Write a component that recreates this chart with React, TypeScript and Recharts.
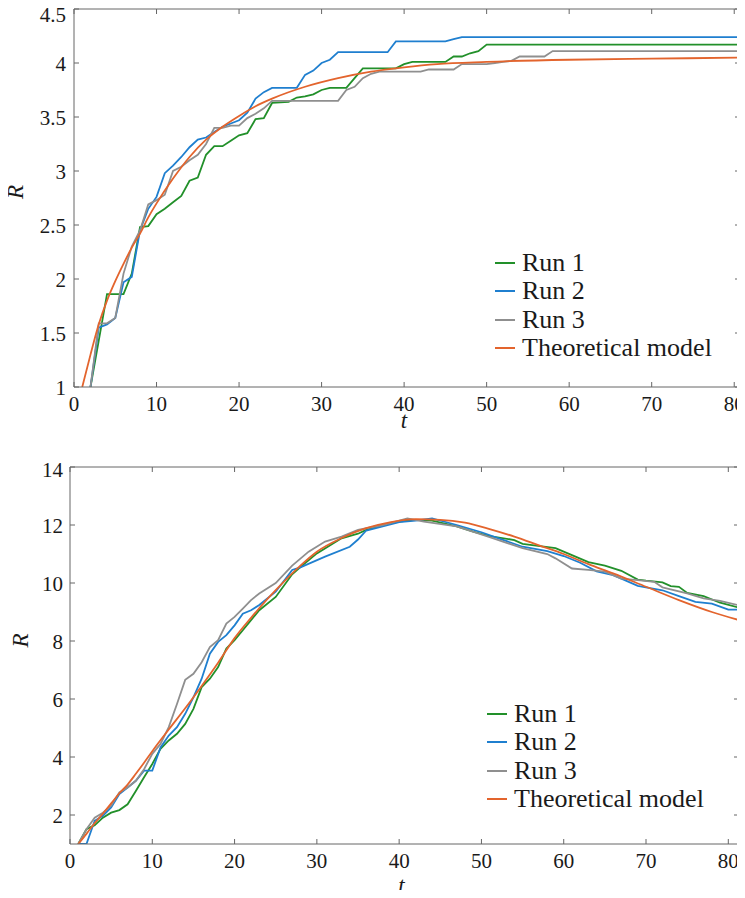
import { LineChart, Line, XAxis, YAxis, Legend } from 'recharts'

const FONT = '"Liberation Serif", "Times New Roman", serif'
const AXIS = '#666'
const TEXT = '#1a1a1a'

const seriesNames = ['Run 1', 'Run 2', 'Run 3', 'Theoretical model']
const seriesColors = ['#22902a', '#1f7fcf', '#8f8f8f', '#e3642d']

const xTicks = [0, 10, 20, 30, 40, 50, 60, 70, 80]

// top panel
const topYTicks = [1, 1.5, 2, 2.5, 3, 3.5, 4, 4.5]
const topRun1T = [2, 3, 4, 6, 7, 8, 9, 10, 11, 12, 13, 14, 15, 16, 17, 18, 19, 20, 21, 22, 23, 24, 26, 27, 28, 29, 30, 31, 33, 34, 35, 39, 40, 41, 45, 46, 47, 48, 49, 50, 81]
const topRun1R = [1, 1.43, 1.86, 1.86, 2.05, 2.48, 2.49, 2.6, 2.65, 2.71, 2.77, 2.91, 2.94, 3.15, 3.23, 3.23, 3.28, 3.33, 3.35, 3.48, 3.49, 3.63, 3.64, 3.68, 3.69, 3.71, 3.75, 3.77, 3.77, 3.86, 3.95, 3.95, 3.99, 4.01, 4.01, 4.06, 4.06, 4.09, 4.11, 4.17, 4.17]
const topRun2T = [2, 3, 4, 5, 6, 7, 8, 9, 10, 11, 12, 13, 14, 15, 16, 17, 18, 19, 20, 21, 22, 23, 24, 27, 28, 29, 30, 31, 32, 38, 39, 45, 46, 47, 81]
const topRun2R = [1, 1.55, 1.58, 1.64, 1.97, 2.02, 2.45, 2.65, 2.76, 2.98, 3.05, 3.13, 3.22, 3.29, 3.31, 3.36, 3.41, 3.44, 3.47, 3.54, 3.67, 3.73, 3.77, 3.77, 3.89, 3.93, 4.0, 4.03, 4.1, 4.1, 4.2, 4.2, 4.22, 4.24, 4.24]
const topRun3T = [2, 3, 4, 5, 6, 7, 8, 9, 10, 11, 12, 13, 14, 15, 16, 17, 18, 19, 20, 21, 22, 23, 24, 32, 33, 34, 35, 36, 37, 42, 43, 46, 47, 50, 51, 52, 53, 54, 57, 58, 81]
const topRun3R = [1, 1.59, 1.59, 1.64, 2.05, 2.3, 2.45, 2.69, 2.73, 2.78, 3.0, 3.04, 3.1, 3.15, 3.25, 3.4, 3.4, 3.42, 3.42, 3.49, 3.53, 3.58, 3.65, 3.65, 3.75, 3.78, 3.86, 3.9, 3.92, 3.92, 3.94, 3.94, 3.99, 3.99, 4.0, 4.01, 4.02, 4.06, 4.06, 4.11, 4.11]
const topModelT = [1, 2, 3, 4, 5, 6, 7, 8, 9, 10, 12, 14, 16, 18, 20, 22, 24, 28, 32, 36, 40, 44, 50, 60, 70, 81]
const topModelR = [1, 1.3, 1.58, 1.8, 1.98, 2.14, 2.29, 2.42, 2.57, 2.7, 2.93, 3.13, 3.29, 3.41, 3.51, 3.6, 3.67, 3.78, 3.86, 3.92, 3.96, 3.99, 4.01, 4.03, 4.04, 4.05]

// bottom panel
const botYTicks = [2, 4, 6, 8, 10, 12, 14]
const botRun1T = [1, 2, 3, 4, 5, 6, 7, 8, 9, 10, 11, 12, 13, 14, 15, 16, 17, 18, 19, 20, 21, 22, 23, 25, 27, 28, 30, 33, 35, 36, 38, 40, 42, 44, 47, 49, 51, 54, 55, 59, 61, 63, 65, 67, 69, 70, 72, 73, 74, 75, 77, 79, 81.3]
const botRun1R = [1.0, 1.51, 1.65, 1.91, 2.08, 2.17, 2.37, 2.83, 3.3, 3.76, 4.28, 4.57, 4.8, 5.14, 5.66, 6.41, 6.7, 7.1, 7.74, 8.03, 8.37, 8.72, 9.06, 9.52, 10.3, 10.55, 11.02, 11.54, 11.7, 11.83, 12.0, 12.12, 12.18, 12.15, 11.95, 11.77, 11.62, 11.48, 11.35, 11.2, 10.96, 10.72, 10.6, 10.42, 10.12, 10.08, 10.02, 9.89, 9.87, 9.66, 9.55, 9.32, 9.15]
const botRun2T = [1, 2, 3, 4, 5, 6, 7, 8, 9, 10, 11, 12, 13, 14, 15, 16, 17, 18, 19, 20, 21, 22, 23, 25, 27, 28, 31, 34, 35, 36, 38, 40, 42, 44, 47, 50, 52, 55, 58, 60, 62, 64, 66, 67, 69, 72, 74, 76, 78, 80, 81.3]
const botRun2R = [1.0, 1.0, 1.8, 1.97, 2.26, 2.72, 2.95, 3.18, 3.53, 3.53, 4.33, 4.74, 5.03, 5.49, 6.06, 6.7, 7.56, 7.97, 8.2, 8.54, 8.94, 9.06, 9.24, 9.7, 10.45, 10.54, 10.91, 11.25, 11.5, 11.81, 11.95, 12.1, 12.15, 12.23, 12.0, 11.75, 11.55, 11.25, 11.1, 10.93, 10.7, 10.4, 10.27, 10.15, 9.9, 9.75, 9.55, 9.35, 9.29, 9.08, 9.08]
const botRun3T = [1, 2, 3, 4, 5, 6, 7, 8, 9, 10, 11, 12, 13, 14, 15, 16, 17, 18, 19, 20, 21, 22, 23, 25, 27, 29, 31, 33, 35, 38, 41, 43, 47, 51, 55, 58, 59, 61, 63, 65, 67, 69, 71, 72, 75, 77, 79, 81.3]
const botRun3R = [1.0, 1.51, 1.91, 2.08, 2.32, 2.78, 2.95, 3.18, 3.58, 4.11, 4.45, 5.03, 5.83, 6.66, 6.87, 7.27, 7.79, 8.03, 8.6, 8.83, 9.12, 9.41, 9.64, 10.0, 10.6, 11.08, 11.43, 11.6, 11.83, 12.0, 12.23, 12.12, 11.95, 11.58, 11.2, 11.0, 10.85, 10.5, 10.45, 10.39, 10.15, 10.1, 10.04, 9.85, 9.64, 9.47, 9.38, 9.23]
const botModelT = [1, 2, 3, 4, 5, 6, 7, 8, 9, 10, 12, 14, 16, 18, 20, 22, 24, 26, 28, 30, 33, 36, 39, 42, 45, 48, 51, 54, 57, 60, 63, 66, 70, 74, 78, 81.3]
const botModelR = [1.0, 1.35, 1.72, 2.05, 2.4, 2.75, 3.05, 3.42, 3.8, 4.2, 4.95, 5.68, 6.45, 7.25, 8.1, 8.8, 9.45, 10.05, 10.6, 11.08, 11.55, 11.89, 12.1, 12.2, 12.18, 12.08, 11.86, 11.6, 11.3, 11.0, 10.65, 10.33, 9.87, 9.41, 9.0, 8.72]

const zip = (t: number[], r: number[]) => t.map((x, i) => ({ t: x, r: r[i] }))

type Series = { name: string; color: string; data: { t: number; r: number }[]; smooth: boolean }

const buildSeries = (pairs: [number[], number[]][]): Series[] =>
  pairs.map(([t, r], i) => ({
    name: seriesNames[i],
    color: seriesColors[i],
    data: zip(t, r),
    smooth: i === 3,
  }))

const topSeries = buildSeries([
  [topRun1T, topRun1R],
  [topRun2T, topRun2R],
  [topRun3T, topRun3R],
  [topModelT, topModelR],
])
const botSeries = buildSeries([
  [botRun1T, botRun1R],
  [botRun2T, botRun2R],
  [botRun3T, botRun3R],
  [botModelT, botModelR],
])

interface PanelProps {
  top: number
  height: number
  margin: { top: number; right: number; bottom: number; left: number }
  xDomain: [number, number]
  yDomain: [number, number]
  yTicks: number[]
  series: Series[]
  legendTop: number
  legendLeft: number
  rDx: number
  rDy: number
  tDy: number
  yTickMargin: number
  topTickShift: number
}

const XTick = (props: any) => (
  <text x={props.x} y={props.y} dy="0.71em" textAnchor="middle" fontFamily={FONT} fontSize={21} fill={TEXT}>
    {props.payload.value}
  </text>
)

const Panel = (p: PanelProps) => {
  // the highest y label sits a little below its tick, as in the reference
  const YTick = (props: any) => {
    const v = props.payload.value
    const shift = v === p.yDomain[1] ? p.topTickShift : 1
    return (
      <text x={props.x} y={props.y + shift} dy="0.35em" textAnchor="end" fontFamily={FONT} fontSize={21} fill={TEXT}>
        {v}
      </text>
    )
  }
  // axis titles: rotated italic R on the left, italic t under the x axis
  const rLabel = (props: any) => {
    const vb = props.viewBox
    const cx = vb.x - p.rDx
    const cy = vb.y + vb.height / 2 + p.rDy
    return (
      <text
        x={cx}
        y={cy}
        transform={`rotate(-90 ${cx} ${cy})`}
        textAnchor="middle"
        fontFamily={FONT}
        fontSize={23}
        fontStyle="italic"
        fill={TEXT}
      >
        R
      </text>
    )
  }
  const tLabel = (props: any) => {
    const vb = props.viewBox
    return (
      <text
        x={vb.x + vb.width / 2 - 3}
        y={vb.y + p.tDy}
        textAnchor="middle"
        fontFamily={FONT}
        fontSize={23}
        fontStyle="italic"
        fill={TEXT}
      >
        t
      </text>
    )
  }

  return (
    <div style={{ position: 'absolute', left: 0, top: p.top, width: 745, height: p.height, fontFamily: FONT }}>
      <LineChart width={745} height={p.height} margin={p.margin}>
        <XAxis
          xAxisId="x"
          type="number"
          dataKey="t"
          domain={p.xDomain}
          ticks={xTicks}
          interval={0}
          allowDataOverflow
          height={1}
          tickSize={-5}
          tickMargin={14}
          stroke={AXIS}
          tick={XTick}
          label={tLabel}
        />
        <XAxis
          xAxisId="xt"
          orientation="top"
          type="number"
          dataKey="t"
          domain={p.xDomain}
          ticks={xTicks}
          interval={0}
          allowDataOverflow
          height={1}
          tickSize={-5}
          stroke={AXIS}
          tickFormatter={() => ''}
        />
        <YAxis
          yAxisId="y"
          type="number"
          domain={p.yDomain}
          ticks={p.yTicks}
          interval={0}
          allowDataOverflow
          width={1}
          tickSize={-5}
          tickMargin={p.yTickMargin}
          stroke={AXIS}
          tick={YTick}
          label={rLabel}
        />
        <YAxis
          yAxisId="yr"
          orientation="right"
          type="number"
          domain={p.yDomain}
          ticks={p.yTicks}
          interval={0}
          allowDataOverflow
          width={1}
          tickSize={-5}
          stroke={AXIS}
          tickFormatter={() => ''}
        />
        {p.series.map(s => (
          <Line
            key={s.name}
            xAxisId="x"
            yAxisId="y"
            data={s.data}
            dataKey="r"
            name={s.name}
            type={s.smooth ? 'monotone' : 'linear'}
            stroke={s.color}
            strokeWidth={1.8}
            dot={false}
            activeDot={false}
            isAnimationActive={false}
          />
        ))}
        <Legend
          layout="vertical"
          align="center"
          verticalAlign="middle"
          wrapperStyle={{ top: p.legendTop, left: p.legendLeft, width: 250 }}
          content={() => (
            <div style={{ fontFamily: FONT, fontSize: 26, color: TEXT }}>
              {p.series.map(s => (
                <div key={s.name} style={{ display: 'flex', alignItems: 'center', height: 28.3 }}>
                  <span
                    style={{ display: 'inline-block', width: 20, borderTop: `2px solid ${s.color}`, marginRight: 7 }}
                  />
                  <span style={{ lineHeight: '28.3px', whiteSpace: 'nowrap' }}>{s.name}</span>
                </div>
              ))}
            </div>
          )}
        />
      </LineChart>
    </div>
  )
}

export default function App() {
  return (
    <div style={{ position: 'relative', width: 745, height: 898, margin: -8, background: '#fff' }}>
      <Panel
        top={0}
        height={440}
        margin={{ top: 8, right: 4, bottom: 52, left: 73 }}
        xDomain={[0, 80.7]}
        yDomain={[1, 4.5]}
        yTicks={topYTicks}
        series={topSeries}
        legendTop={249}
        legendLeft={495}
        rDx={50}
        rDy={-6}
        tDy={41}
        yTickMargin={13}
        topTickShift={6}
      />
      <Panel
        top={440}
        height={458}
        margin={{ top: 26, right: 5, bottom: 53, left: 69 }}
        xDomain={[0, 81.3]}
        yDomain={[1, 14]}
        yTicks={botYTicks}
        series={botSeries}
        legendTop={260}
        legendLeft={487}
        rDx={41}
        rDy={-15}
        tDy={49}
        yTickMargin={12}
        topTickShift={3}
      />
    </div>
  )
}
